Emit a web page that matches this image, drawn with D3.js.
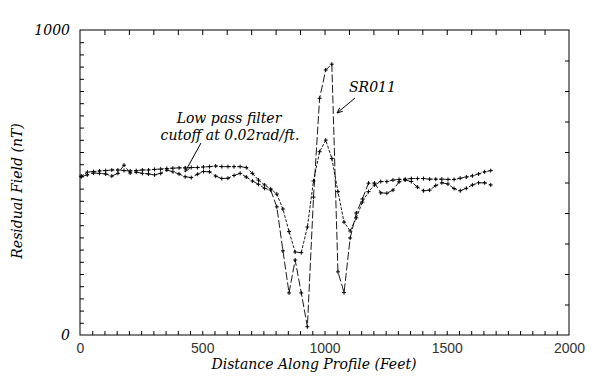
<!DOCTYPE html>
<html lang="en">
<head>
<meta charset="UTF-8">
<title>Residual Field SR011</title>
<script src="https://d3js.org/d3.v7.min.js"></script>
<style>
  * { margin: 0; padding: 0; box-sizing: border-box; }
  body { background: #fff; width: 600px; height: 388px; overflow: hidden; }
  .serif { font-family: "DejaVu Serif", "Liberation Serif", serif; font-style: italic; fill: #000; }
  .sans { font-family: "Liberation Sans", Arial, sans-serif; fill: #333; }
</style>
</head>
<body>
<div id="chart"></div>
<script>
// distance along profile (ft), one reading every 25 ft
const distance = [5, 30, 55, 80, 105, 130, 155, 180, 205, 230, 255, 280, 305, 330, 355, 380, 405,
  430, 455, 480, 505, 530, 555, 580, 605, 630, 655, 680, 705, 730, 755, 780, 805, 830, 855, 880,
  905, 930, 955, 980, 1005, 1030, 1055, 1080, 1105, 1130, 1155, 1180, 1205, 1230, 1255, 1280,
  1305, 1330, 1355, 1380, 1405, 1430, 1455, 1480, 1505, 1530, 1555, 1580, 1605, 1630, 1655, 1680];

// SR011 measured residual field (nT)
const rawField = [519, 525, 531, 530, 528, 521, 530, 557, 531, 534, 530, 528, 525, 530, 541, 535,
  528, 519, 516, 527, 536, 535, 521, 513, 514, 523, 530, 518, 505, 494, 481, 475, 420, 276, 138,
  246, 138, 27, 452, 776, 869, 888, 207, 139, 318, 400, 446, 498, 498, 466, 465, 475, 502, 508,
  503, 485, 473, 475, 490, 499, 495, 480, 473, 481, 492, 499, 499, 492];

// low pass filtered field, cutoff 0.02 rad/ft (nT)
const filteredField = [521, 534, 536, 538, 539, 541, 541, 539, 538, 539, 541, 541, 543, 544, 546,
  547, 548, 548, 549, 549, 551, 552, 554, 552, 552, 552, 552, 549, 530, 508, 492, 479, 462, 413,
  339, 272, 270, 354, 505, 601, 639, 579, 470, 370, 341, 384, 436, 470, 492, 503, 503, 508, 510,
  511, 513, 513, 513, 511, 511, 511, 510, 510, 514, 518, 522, 528, 535, 539];

const xTickLabels = [0, 500, 1000, 1500, 2000];
const yTickLabels = [0, 1000];

const W = 600, H = 388;
const m = { left: 80, right: 569, top: 30, bottom: 335 };

const svg = d3.select("#chart").append("svg")
  .attr("width", W).attr("height", H);

const x = d3.scaleLinear().domain([0, 2000]).range([m.left, m.right]);
const y = d3.scaleLinear().domain([0, 1000]).range([m.bottom, m.top]);

// frame
svg.append("rect")
  .attr("x", m.left).attr("y", m.top)
  .attr("width", m.right - m.left).attr("height", m.bottom - m.top)
  .attr("fill", "none").attr("stroke", "#000").attr("stroke-width", 1);

// inward ticks on all four sides
const tickStyle = g => {
  g.select(".domain").remove();
  g.selectAll("line").attr("stroke", "#000").attr("stroke-width", 1);
};
svg.append("g").attr("transform", `translate(0,${m.bottom})`)
  .call(d3.axisBottom(x).tickValues(d3.range(50, 2000, 50)).tickSize(-4).tickFormat(""))
  .call(tickStyle);
svg.append("g").attr("transform", `translate(0,${m.top})`)
  .call(d3.axisTop(x).tickValues(d3.range(100, 2000, 100)).tickSize(-5).tickFormat(""))
  .call(tickStyle);
svg.append("g").attr("transform", `translate(${m.left},0)`)
  .call(d3.axisLeft(y).tickValues(d3.range(40, 1000, 40)).tickSize(-4).tickFormat(""))
  .call(tickStyle);
svg.append("g").attr("transform", `translate(${m.right},0)`)
  .call(d3.axisRight(y).tickValues(d3.range(100, 1000, 100)).tickSize(-4).tickFormat(""))
  .call(tickStyle);

// tick labels
svg.append("g").attr("transform", `translate(0,${m.bottom})`)
  .call(d3.axisBottom(x).tickValues(xTickLabels).tickSize(0).tickPadding(8).tickFormat(d3.format("d")))
  .call(g => g.select(".domain").remove())
  .call(g => g.selectAll("text").attr("class", "sans").attr("font-size", 14));

svg.append("g").attr("transform", `translate(${m.left},0)`)
  .call(d3.axisLeft(y).tickValues(yTickLabels).tickSize(0).tickPadding(10).tickFormat(d3.format("d")))
  .call(g => g.select(".domain").remove())
  .call(g => g.selectAll("text").attr("class", "serif").attr("font-size", 14));

// axis titles
svg.append("text").attr("class", "serif")
  .attr("x", 314).attr("y", 369)
  .attr("text-anchor", "middle").attr("font-size", 14)
  .text("Distance Along Profile (Feet)");

svg.append("text").attr("class", "serif")
  .attr("transform", "translate(22,191) rotate(-90)")
  .attr("text-anchor", "middle").attr("font-size", 14)
  .text("Residual Field (nT)");

// series
const rawPts = distance.map((d, i) => [d, rawField[i]]);
const filtPts = distance.map((d, i) => [d, filteredField[i]]);

const line = d3.line().x(d => x(d[0])).y(d => y(d[1]));

svg.append("path").datum(rawPts)
  .attr("d", line).attr("fill", "none")
  .attr("stroke", "#000").attr("stroke-width", 0.9)
  .attr("stroke-dasharray", "8,2.5");

svg.append("path").datum(filtPts)
  .attr("d", line).attr("fill", "none")
  .attr("stroke", "#000").attr("stroke-width", 0.9)
  .attr("stroke-dasharray", "3,1.5");

const plus = "M-2,0H2M0,-2V2";
[rawPts, filtPts].forEach(pts => {
  svg.append("g").selectAll("path")
    .data(pts)
    .join("path")
    .attr("transform", d => `translate(${x(d[0])},${y(d[1])})`)
    .attr("d", plus)
    .attr("stroke", "#000").attr("stroke-width", 1);
});

// annotations
svg.append("text").attr("class", "serif")
  .attr("x", 229).attr("y", 123).attr("text-anchor", "middle").attr("font-size", 14)
  .text("Low pass filter");
svg.append("text").attr("class", "serif")
  .attr("x", 230).attr("y", 140).attr("text-anchor", "middle").attr("font-size", 14)
  .text("cutoff at 0.02rad/ft.");
svg.append("text").attr("class", "serif")
  .attr("x", 349).attr("y", 92).attr("font-size", 14)
  .text("SR011");

const arrow = (x1, y1, x2, y2) => {
  svg.append("line")
    .attr("x1", x1).attr("y1", y1).attr("x2", x2).attr("y2", y2)
    .attr("stroke", "#000").attr("stroke-width", 1);
  const a = Math.atan2(y2 - y1, x2 - x1);
  const s = 6;
  const p1 = [x2 - s * Math.cos(a - 0.4), y2 - s * Math.sin(a - 0.4)];
  const p2 = [x2 - s * Math.cos(a + 0.4), y2 - s * Math.sin(a + 0.4)];
  svg.append("path")
    .attr("d", `M${p1}L${x2},${y2}L${p2}`)
    .attr("fill", "none").attr("stroke", "#000").attr("stroke-width", 1);
};
arrow(201, 143, 185, 172);
arrow(355, 98, 337, 113);
</script>
</body>
</html>
